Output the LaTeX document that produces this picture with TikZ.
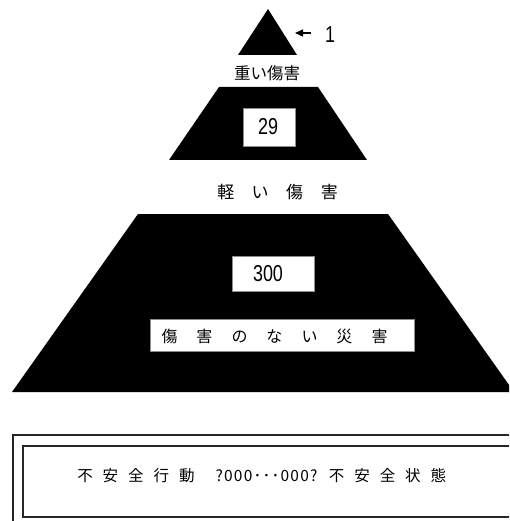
\documentclass[tikz,border=0pt]{standalone}
\usepackage{fontspec}
\usepackage{graphicx}
\setmainfont{Noto Sans CJK JP}
\newfontfamily\digitfont{Liberation Sans}
\usetikzlibrary{arrows.meta}
\tikzset{
  shapefill/.style={fill=black, draw=none},
  whitebox/.style={fill=white, draw=black!45, line width=0.6pt},
  label/.style={inner sep=0pt, outer sep=0pt, text=black},
  frame/.style={draw=black!85, line width=1.3pt},
  pointer/.style={line width=1.4pt, -{Triangle[length=8pt,width=7pt]}}
}
\newcommand{\numtxt}[1]{\digitfont\fontsize{23}{23}\selectfont\scalebox{0.78}[1]{#1}}
\begin{document}
\begin{tikzpicture}[x=1pt,y=-1pt]
\clip (0,0) rectangle (509,521);
\fill[white] (0,0) rectangle (509,521);
% small triangle
\fill[shapefill] (268,9) -- (297,55) -- (238,55) -- cycle;
% middle trapezoid
\fill[shapefill] (219,87) -- (318,87) -- (367,160) -- (169,160) -- cycle;
% large trapezoid
\fill[shapefill] (138,214) -- (388,214) -- (514,392) -- (12,392) -- cycle;
% arrow and label 1
\node[label] (one) at (330,35) {\numtxt{1}};
\coordinate (arrowstart) at (311,33);
\coordinate (arrowtip) at (295,33);
\draw[pointer] (arrowstart) -- (arrowtip);
% labels
\node[label] (heavy) at (267,73) {\fontsize{16.5}{17}\selectfont 重い傷害};
\draw[whitebox] (243,108) rectangle (295,146);
\node[label] (n29) at (268,127) {\numtxt{29}};
\node[label] (light) at (277.5,192) {\fontsize{17}{17}\selectfont 軽\hspace{17.5pt}い\hspace{17.5pt}傷\hspace{17.5pt}害};
\draw[whitebox] (232,256) rectangle (314,291);
\node[label] (n300) at (268,274) {\numtxt{300}};
\draw[whitebox] (150,319) rectangle (414,351);
\node[label] (noinj) at (274.5,336.5) {\fontsize{16}{16}\selectfont 傷\hspace{19pt}害\hspace{19pt}の\hspace{19pt}な\hspace{19pt}い\hspace{19pt}災\hspace{19pt}害};
% bottom frames
\draw[frame] (530,435) -- (13,435) -- (13,540);
\draw[frame] (23,446) rectangle (530,517);
\node[label] (unsafeact) at (136,476) {\fontsize{15.5}{16}\selectfont 不\hspace{10pt}安\hspace{10pt}全\hspace{10pt}行\hspace{10pt}動};
\node[label] (mid) at (266.5,476) {\fontsize{15.5}{16}\selectfont\addfontfeature{LetterSpace=8}?000･･･000?};
\node[label] (unsafestate) at (387.5,476) {\fontsize{15.5}{16}\selectfont 不\hspace{10pt}安\hspace{10pt}全\hspace{10pt}状\hspace{10pt}態};
\end{tikzpicture}
\end{document}
